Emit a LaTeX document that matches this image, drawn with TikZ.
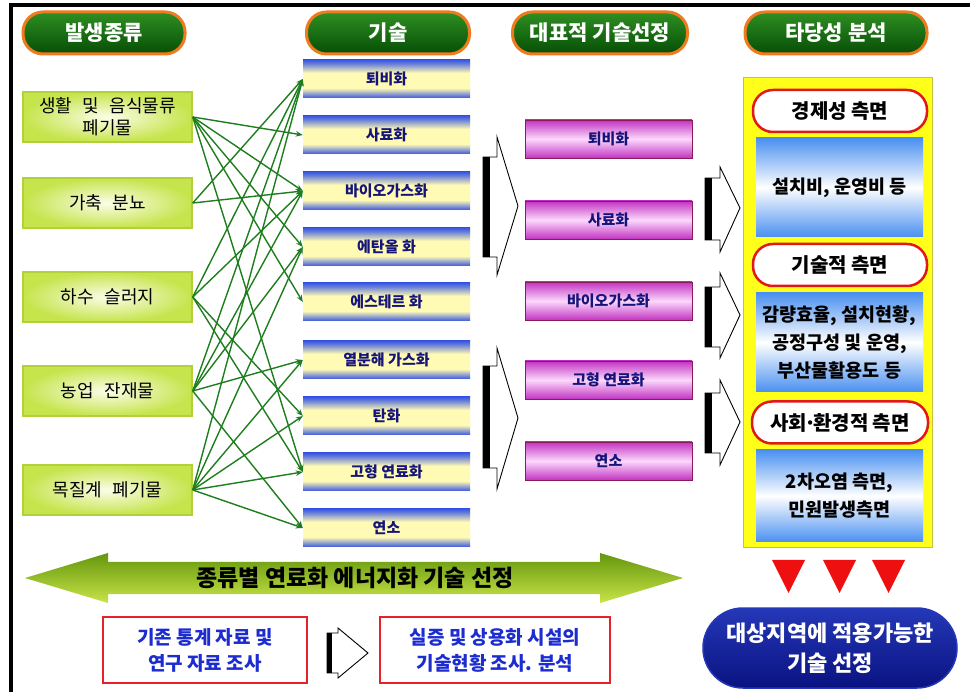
\documentclass[tikz,border=0pt]{standalone}
\usepackage{fontspec}
\setmainfont{Noto Sans CJK KR}
\newfontfamily\srcfont{Noto Sans CJK KR}[WordSpace=2.6]
\usetikzlibrary{arrows.meta}
\definecolor{pillorange}{HTML}{F07A1E}
\definecolor{pillgtop}{HTML}{2F8F22}
\definecolor{pillgbot}{HTML}{064E06}
\definecolor{srcout}{HTML}{C6E44C}
\definecolor{srcin}{HTML}{FBFDE8}
\definecolor{srcline}{HTML}{B2D038}
\definecolor{techblue}{HTML}{3A58E2}
\definecolor{techyel}{HTML}{FFFBB4}
\definecolor{navytxt}{HTML}{14147A}
\definecolor{magdark}{HTML}{C234C2}
\definecolor{maglight}{HTML}{FCD8FC}
\definecolor{magline}{HTML}{8A1A5A}
\definecolor{arrgreen}{HTML}{1E7E1E}
\definecolor{panelyel}{HTML}{FFFF1A}
\definecolor{panelline}{HTML}{C8C040}
\definecolor{bluebox}{HTML}{4A90F0}
\definecolor{pillred}{HTML}{E01818}
\definecolor{trired}{HTML}{EE1010}
\definecolor{navypill}{HTML}{0A1280}
\definecolor{navypilltop}{HTML}{2438B8}
\definecolor{bandtop}{HTML}{64960C}
\definecolor{bandbot}{HTML}{C8E448}
\definecolor{bottomblue}{HTML}{1C2CD0}
\definecolor{boxred}{HTML}{E8202A}
\pgfdeclareverticalshading{techshade}{100bp}{color(0bp)=(techblue); color(25bp)=(techblue); color(29bp)=(techblue!70!techyel); color(38bp)=(techyel); color(58bp)=(techyel); color(70bp)=(techblue!75!techyel); color(75bp)=(techblue); color(100bp)=(techblue)}
\begin{document}
\begin{tikzpicture}[x=1pt,y=-1pt,
  hdr/.style={rectangle, rounded corners=20pt, draw=pillorange, line width=3pt, top color=pillgtop, bottom color=pillgbot, text=white, font=\bfseries\fontsize{21}{25}\selectfont, minimum height=42pt, inner sep=0pt},
  src/.style={rectangle, draw=srcline, line width=1.5pt, inner color=srcin, outer color=srcout, minimum width=169pt, minimum height=50pt, font=\srcfont\fontsize{18}{22}\selectfont, align=center, inner sep=0pt},
  tech/.style={rectangle, shade, shading=techshade, minimum width=167pt, minimum height=38pt, font=\bfseries\fontsize{15}{18}\selectfont, text=navytxt, inner sep=0pt},
  rep/.style={rectangle, draw=magline, line width=0.8pt, top color=magdark, bottom color=magdark, middle color=maglight, minimum width=167pt, minimum height=38pt, font=\bfseries\fontsize{15}{18}\selectfont, text=navytxt, inner sep=0pt},
  crit/.style={rectangle, rounded corners=20pt, draw=pillred, line width=2.5pt, fill=white, minimum width=174pt, minimum height=42pt, font=\bfseries\fontsize{20}{24}\selectfont, inner sep=0pt},
  bbox/.style={rectangle, top color=bluebox, bottom color=bluebox, middle color=white, minimum width=167pt, font=\bfseries\fontsize{18.5}{28}\selectfont, align=center, inner sep=0pt},
  conn/.style={draw=arrgreen, line width=1.4pt, -{Stealth[length=7pt,width=5.5pt]}},
  blockarr/.style={fill=white, draw=black, line width=0.9pt, line join=miter},
  bar/.style={line width=7pt},
  survey/.style={rectangle, draw=boxred, line width=2pt, fill=white, minimum height=66pt, text=bottomblue, font=\bfseries\fontsize{19}{26}\selectfont, align=center, inner sep=0pt}
]
\useasboundingbox (0,0) rectangle (970,692);
\fill[white] (0,0) rectangle (970,692);
% frame
\draw[line width=3.5pt] (11,692) -- (11,5) -- (970,5);

% headers
\node[hdr, minimum width=162pt] (h1) at (104,33) {발생종류};
\node[hdr, minimum width=163pt] (h2) at (388,33) {기술};
\node[hdr, minimum width=175pt] (h3) at (600,33) {대표적 기술선정};
\node[hdr, minimum width=182pt] (h4) at (836,33) {타당성 분석};

% sources
\node[src] (s1) at (107.5,117) {생활 및 음식물류\\폐기물};
\node[src] (s2) at (107.5,203) {가축 분뇨};
\node[src] (s3) at (107.5,297) {하수 슬러지};
\node[src] (s4) at (107.5,391) {농업 잔재물};
\node[src] (s5) at (107.5,490) {목질계 폐기물};

% technologies
\node[tech] (t1) at (386.5,79) {퇴비화};
\node[tech] (t2) at (386.5,135) {사료화};
\node[tech] (t3) at (386.5,191) {바이오가스화};
\node[tech] (t4) at (386.5,247) {에탄올 화};
\node[tech] (t5) at (386.5,302) {에스테르 화};
\node[tech] (t6) at (386.5,360) {열분해 가스화};
\node[tech] (t7) at (386.5,416) {탄화};
\node[tech] (t8) at (386.5,472) {고형 연료화};
\node[tech] (t9) at (386.5,528) {연소};

% connectors
\foreach \s/\t in {s1/t2,s1/t3,s1/t4,s1/t5,s1/t8,
                   s2/t1,s2/t3,
                   s3/t1,s3/t3,s3/t7,s3/t8,
                   s4/t1,s4/t3,s4/t4,s4/t6,s4/t9,
                   s5/t1,s5/t4,s5/t6,s5/t7,s5/t8,s5/t9}
  \draw[conn] (\s.east) -- (\t.west);

% representative technologies
\node[rep] (r1) at (608.5,139) {퇴비화};
\node[rep] (r2) at (608.5,220) {사료화};
\node[rep] (r3) at (608.5,301) {바이오가스화};
\node[rep] (r4) at (608.5,380) {고형 연료화};
\node[rep] (r5) at (608.5,461) {연소};

% block arrows tech -> rep
\filldraw[blockarr] (483,157) -- (497,157) -- (497,137) -- (518,206) -- (497,275) -- (497,257) -- (483,257) -- cycle;
\draw[bar] (486.5,157) -- (486.5,257);
\filldraw[blockarr] (483,366) -- (497,366) -- (497,348) -- (518,418) -- (497,489) -- (497,468) -- (483,468) -- cycle;
\draw[bar] (486.5,366) -- (486.5,468);

% block arrows rep -> panel
\filldraw[blockarr] (705,178) -- (720,178) -- (720,167) -- (740,208) -- (720,252) -- (720,240) -- (705,240) -- cycle;
\draw[bar] (708.5,178) -- (708.5,240);
\filldraw[blockarr] (705,287) -- (720,287) -- (720,273) -- (740,315) -- (720,358) -- (720,347) -- (705,347) -- cycle;
\draw[bar] (708.5,287) -- (708.5,347);
\filldraw[blockarr] (705,393) -- (720,393) -- (720,380) -- (740,422) -- (720,465) -- (720,453) -- (705,453) -- cycle;
\draw[bar] (708.5,393) -- (708.5,453);

% right panel
\filldraw[fill=panelyel, draw=panelline, line width=1pt] (743,78) rectangle (932,548);
\node[crit] (c1) at (840,111) {경제성 측면};
\node[bbox, minimum height=99pt] (b1) at (839.5,187.5) {설치비, 운영비 등};
\node[crit] (c2) at (840,265) {기술적 측면};
\node[bbox, minimum height=99pt] (b2) at (839.5,342.5) {감량효율, 설치현황,\\공정구성 및 운영,\\부산물활용도 등};
\node[crit, minimum width=176pt] (c3) at (840,422.5) {사회\kern-0.15em·\kern-0.15em환경적 측면};
\node[bbox, minimum height=92pt] (b3) at (839.5,496) {2차오염 측면,\\민원발생측면};

% red triangles
\foreach \xa in {772,823,872}
  \fill[trired] (\xa,560) -- (\xa+33,560) -- (\xa+16.5,593) -- cycle;

% final pill
\node[rectangle, rounded corners=40pt, draw=navypilltop, line width=1.5pt, top color=navypilltop, bottom color=navypill, minimum width=254pt, minimum height=80pt, text=white, font=\bfseries\fontsize{22}{30}\selectfont, align=center, inner sep=0pt] (final) at (830,648) {대상지역에 적용가능한\\기술 선정};

% green band double arrow
\shade[top color=bandtop, bottom color=bandbot] (25,578) -- (108,553) -- (108,562) -- (600,562) -- (600,553) -- (683,578) -- (600,603) -- (600,594) -- (108,594) -- (108,603) -- cycle;
\node[font=\bfseries\fontsize{23}{26}\selectfont, inner sep=0pt] (band) at (355,578) {종류별 연료화 에너지화 기술 선정};

% bottom boxes
\node[survey, minimum width=204pt] (v1) at (205,650) {기존 통계 자료 및\\연구 자료 조사};
\node[survey, minimum width=230pt] (v2) at (495,650) {실증 및 상용화 시설의\\기술현황 조사. 분석};
\filldraw[blockarr] (327,633) -- (338,633) -- (338,628) -- (368,653) -- (338,678) -- (338,673) -- (327,673) -- cycle;
\draw[line width=5pt] (329.5,633) -- (329.5,673);
\end{tikzpicture}
\end{document}
